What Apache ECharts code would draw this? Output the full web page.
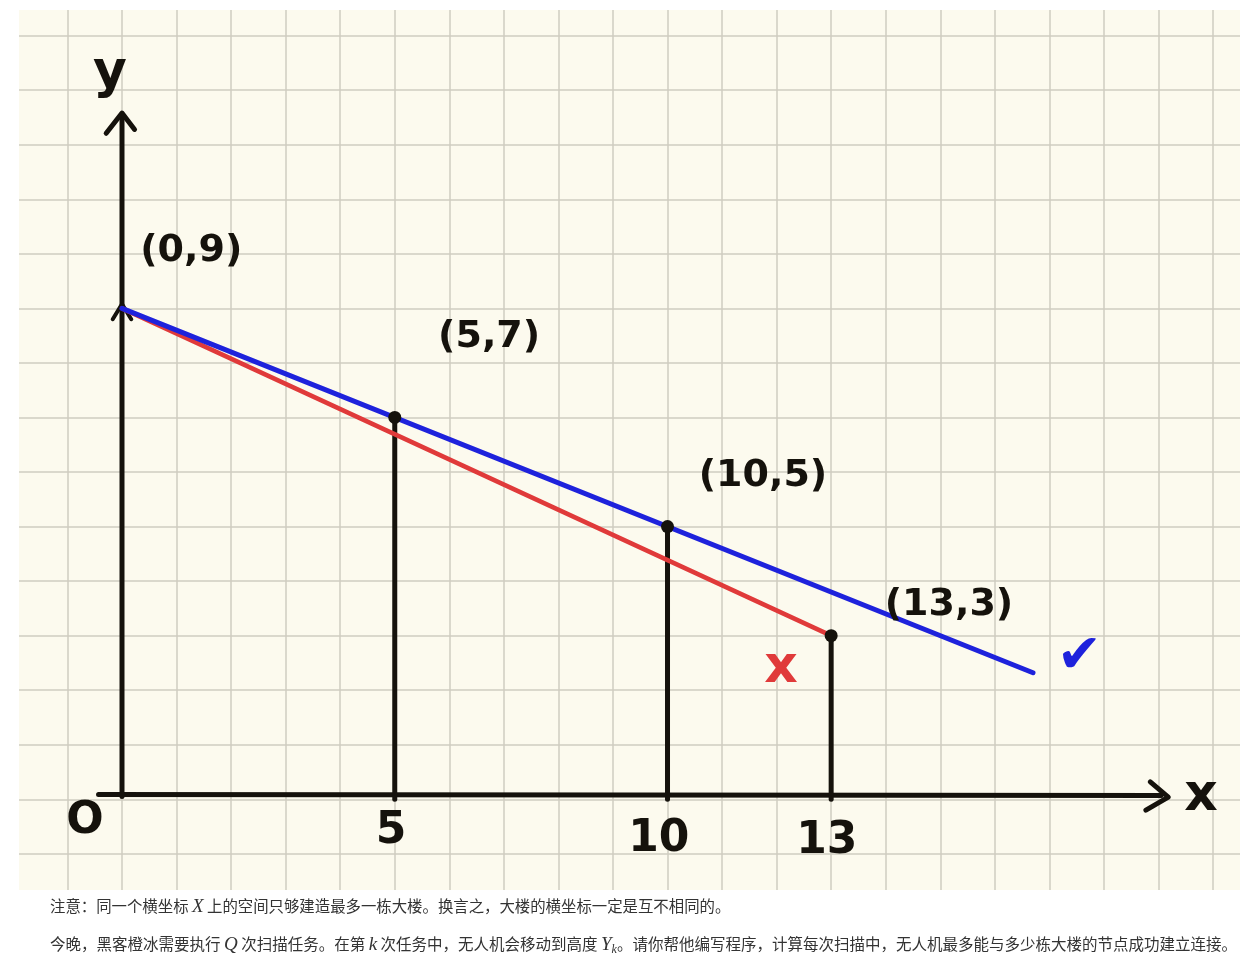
<!DOCTYPE html>
<html><head><meta charset="utf-8">
<script src="https://cdn.jsdelivr.net/npm/echarts@6/dist/echarts.min.js"></script>
<style>html,body{margin:0;padding:0;background:#fff}#c{width:1260px;height:959px}</style>
</head><body><div id="c"></div>
<script>
// ---- data ----
const buildings = [[0, 9], [5, 7], [10, 5], [13, 3]];
const pointLabels = ['(0,9)', '(5,7)', '(10,5)', '(13,3)'];
const pointLabelPos = [[1.27, 10.05], [6.73, 8.48], [11.75, 5.93], [15.16, 3.56]];
const blueLine = [[0, 9], [16.7, 2.32]];
const redLine = [[0, 9], [13, 3]];
const xAxisStroke = [[-0.43, 0.09], [19.05, 0.07]];
const xArrow = [[18.85, 0.32], [19.18, 0.04], [18.77, -0.2]];
const yAxisStroke = [[0, 0.05], [0, 12.55]];
const yArrow = [[-0.29, 12.21], [0, 12.58], [0.23, 12.28]];
const topChevron = [[-0.17, 8.8], [0, 9.08], [0.17, 8.8]];
const tickLabels = [['O', -0.68, -0.41], ['5', 4.93, -0.6], ['10', 9.84, -0.74], ['13', 12.92, -0.78]];
const axisNames = [['y', -0.22, 13.3], ['x', 19.78, 0.05]];
const redMark = [['x', 12.08, 2.4]];
const blueMark = [['✔', 17.55, 2.6]];
const note1 = '注意：同一个横坐标 {m|X} 上的空间只够建造最多一栋大楼。换言之，大楼的横坐标一定是互不相同的。';
const note2 = '今晚，黑客橙冰需要执行 {m|Q} 次扫描任务。在第 {m|k} 次任务中，无人机会移动到高度 {m|Y}{s|k}。请你帮他编写程序，计算每次扫描中，无人机最多能与多少栋大楼的节点成功建立连接。';

const INK = '#15120c', BLUE = '#1e22dc', RED = '#e03a3a';
const HAND = "'DejaVu Sans', sans-serif";

function stroke(data, color, width) {
  return { type: 'line', data: data, symbol: 'none', silent: true, animation: false,
    lineStyle: { color: color, width: width, cap: 'round', join: 'round' }, z: 3 };
}
function texts(arr, color, size, weight) {
  return { type: 'scatter', data: arr.map(a => [a[1], a[2], a[0]]), symbolSize: 0.01, silent: true,
    itemStyle: { color: 'rgba(0,0,0,0)', opacity: 1 }, z: 5,
    label: { show: true, position: 'inside', formatter: p => p.value[2], color: color, opacity: 1,
      fontSize: size, fontFamily: HAND, fontWeight: weight || 'bold', textBorderWidth: 0 } };
}

const series = [
  stroke(xAxisStroke, INK, 5),
  stroke(xArrow, INK, 5),
  stroke(yAxisStroke, INK, 5),
  stroke(yArrow, INK, 5),
  stroke(topChevron, INK, 4),
];
buildings.slice(1).forEach(b => series.push(stroke([[b[0], 0], [b[0], b[1]]], INK, 5)));
series.push(stroke(redLine, RED, 4.5));
series.push(stroke(blueLine, BLUE, 5));
series.push({ type: 'scatter', data: buildings.slice(1), symbolSize: 13, silent: true,
  itemStyle: { color: INK, opacity: 1 }, z: 6 });
series.push(texts(pointLabels.map((t, i) => [t, pointLabelPos[i][0], pointLabelPos[i][1]]), INK, 38));
series.push(texts(tickLabels, INK, 44));
series.push(texts(axisNames, INK, 52));
series.push(texts(redMark, RED, 52));
series.push(texts(blueMark, BLUE, 54, 'normal'));

const chart = echarts.init(document.getElementById('c'), null, { renderer: 'canvas' });
chart.setOption({
  animation: false,
  backgroundColor: '#ffffff',
  grid: { left: 12.9, right: 8.8, top: 2.87, bottom: 50.6, show: true,
    backgroundColor: '#fcfaee', borderWidth: 0 },
  xAxis: { type: 'value', min: -2, max: 20.7, interval: 1,
    axisLine: { show: false }, axisTick: { show: false }, axisLabel: { show: false },
    splitLine: { show: true, lineStyle: { color: '#cfccc1', width: 1.5 } } },
  yAxis: { type: 'value', min: -2, max: 14.6, interval: 1,
    axisLine: { show: false }, axisTick: { show: false }, axisLabel: { show: false },
    splitLine: { show: true, lineStyle: { color: '#cfccc1', width: 1.5 } } },
  series: series,
  graphic: [
    { type: 'rect', shape: { x: 0, y: 0, width: 19, height: 959 }, style: { fill: '#fff' }, z: 100, silent: true },
    { type: 'rect', shape: { x: 1240, y: 0, width: 20, height: 959 }, style: { fill: '#fff' }, z: 100, silent: true },
    { type: 'rect', shape: { x: 0, y: 0, width: 1260, height: 10 }, style: { fill: '#fff' }, z: 100, silent: true },
    { type: 'rect', shape: { x: 0, y: 890, width: 1260, height: 69 }, style: { fill: '#fff' }, z: 100, silent: true },
    { type: 'text', left: 50, top: 897, z: 101, silent: true,
      style: { text: note1, fill: '#333', fontSize: 15.4, fontFamily: "'Noto Sans CJK SC', sans-serif",
        rich: { m: { fontFamily: "'Liberation Serif', serif", fontStyle: 'italic', fontSize: 19, fill: '#333' } } } },
    { type: 'text', left: 50, top: 935, z: 101, silent: true,
      style: { text: note2, fill: '#333', fontSize: 15.5, fontFamily: "'Noto Sans CJK SC', sans-serif",
        rich: { m: { fontFamily: "'Liberation Serif', serif", fontStyle: 'italic', fontSize: 19, fill: '#333' },
          s: { fontFamily: "'Liberation Serif', serif", fontStyle: 'italic', fontSize: 12, fill: '#333', padding: [10, 0, 0, 0] } } } }
  ]
});
</script></body></html>
